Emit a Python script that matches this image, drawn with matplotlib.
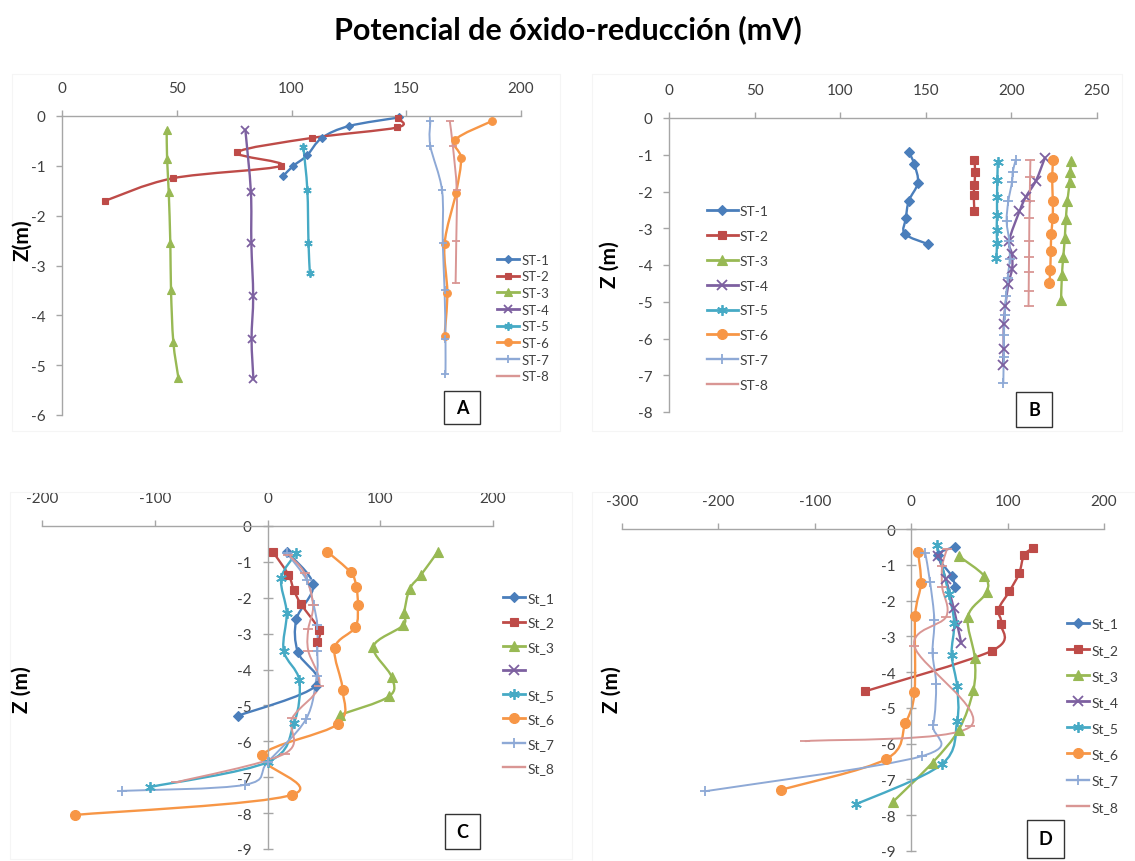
import numpy as np
import matplotlib
matplotlib.use("Agg")
import matplotlib.pyplot as plt
from matplotlib.path import Path
from matplotlib.patches import PathPatch, Rectangle
from matplotlib.lines import Line2D

plt.rcParams['font.family'] = ['Lato', 'DejaVu Sans']

# ---------------- DATA ----------------
# Panel A  (x = Eh mV, z = depth m)
A_labels = ["ST-1", "ST-2", "ST-3", "ST-4", "ST-5", "ST-6", "ST-7", "ST-8"]
A_st1_x = [146.7, 125.2, 113.2, 106.8, 100.8, 96.5]
A_st1_z = [-0.03, -0.2, -0.44, -0.79, -1.0, -1.2]
A_st2_x = [146.4, 146.1, 108.9, 76.3, 95.4, 48.2, 18.9]
A_st2_z = [-0.05, -0.23, -0.44, -0.73, -1.0, -1.25, -1.7]
A_st3_x = [45.6, 45.8, 46.5, 47.2, 47.5, 48.5, 50.7]
A_st3_z = [-0.28, -0.87, -1.52, -2.55, -3.5, -4.53, -5.25]
A_st4_x = [79.9, 82.3, 82.5, 83.3, 82.6, 83.4]
A_st4_z = [-0.28, -1.52, -2.55, -3.62, -4.48, -5.28]
A_st5_x = [105.2, 106.9, 107.4, 108.0]
A_st5_z = [-0.63, -1.48, -2.54, -3.15]
A_st6_x = [187.4, 171.3, 173.9, 171.7, 166.7, 167.9, 166.7]
A_st6_z = [-0.1, -0.48, -0.85, -1.54, -2.56, -3.55, -4.41]
A_st7_x = [160.5, 160.5, 165.6, 165.9, 166.7, 167.1, 167.1]
A_st7_z = [-0.11, -0.6, -1.49, -2.55, -3.5, -4.48, -5.17]
A_st8_x = [169.0, 170.3, 172.0, 171.8, 171.5]
A_st8_z = [-0.11, -0.6, -1.48, -2.5, -3.35]

# Panel B
B_labels = ["ST-1", "ST-2", "ST-3", "ST-4", "ST-5", "ST-6", "ST-7", "ST-8"]
B_st1_x = [140.1, 143.3, 145.4, 140.1, 138.4, 137.7, 151.2]
B_st1_z = [-0.92, -1.26, -1.76, -2.25, -2.72, -3.15, -3.43]
B_st2_x = [178.4, 178.8, 178.4, 178.0, 178.4]
B_st2_z = [-1.15, -1.46, -1.82, -2.09, -2.52]
B_st3_x = [235.0, 234.2, 234.0, 232.7, 231.8, 231.2, 230.3, 229.5, 229.0]
B_st3_z = [-1.18, -1.48, -1.75, -2.26, -2.74, -3.26, -3.78, -4.28, -4.95]
B_st4_x = [219.6, 214.3, 208.5, 204.7, 198.7, 200.4, 200.4, 198.2, 196.5, 195.5, 195.5, 195.0]
B_st4_z = [-1.08, -1.71, -2.14, -2.54, -3.34, -3.71, -4.1, -4.53, -5.11, -5.61, -6.28, -6.73]
B_st5_x = [192.0, 191.8, 191.6, 191.6, 191.4, 191.6, 191.2]
B_st5_z = [-1.21, -1.69, -2.16, -2.63, -3.04, -3.4, -3.8]
B_st6_x = [224.5, 223.8, 224.2, 224.1, 223.3, 223.0, 222.7, 222.2]
B_st6_z = [-1.13, -1.6, -2.25, -2.73, -3.15, -3.63, -4.14, -4.5]
B_st7_x = [202.5, 200.8, 200.4, 198.2, 197.2, 198.7, 199.0, 197.8, 196.9, 196.0, 195.7, 195.5, 195.3]
B_st7_z = [-1.15, -1.46, -1.73, -2.27, -2.81, -3.34, -3.85, -4.35, -4.85, -5.35, -5.9, -6.5, -7.2]
B_st8_x = [211.1, 210.9, 210.7, 210.5, 210.4, 210.3, 210.2, 210.1, 210.0]
B_st8_z = [-1.15, -1.6, -2.25, -2.72, -3.35, -3.78, -4.2, -4.7, -5.12]

# Panel C
C_labels = ["St_1", "St_2", "St_3", " ", "St_5", "St_6", "St_7", "St_8"]
C_st1_x = [17.0, 40.4, 25.6, 26.9, 42.9, -26.3]
C_st1_z = [-0.72, -1.63, -2.6, -3.52, -4.45, -5.29]
C_st2_x = [4.8, 18.6, 23.4, 29.8, 45.8, 44.2]
C_st2_z = [-0.72, -1.36, -1.79, -2.18, -2.89, -3.22]
C_st3_x = [151.0, 136.2, 126.0, 121.2, 120.2, 93.9, 110.0, 107.7, 64.4]
C_st3_z = [-0.72, -1.36, -1.76, -2.42, -2.77, -3.36, -4.2, -4.75, -5.26]
C_st4_x = []
C_st4_z = []
C_st5_x = [25.6, 12.2, 17.0, 14.4, 28.2, 23.4, 0.0, -103.8]
C_st5_z = [-0.75, -1.46, -2.42, -3.48, -4.3, -5.5, -6.58, -7.27]
C_st6_x = [53.2, 73.7, 78.8, 80.1, 77.9, 59.6, 66.7, 62.2, -4.5, 21.8, -170.5]
C_st6_z = [-0.72, -1.29, -1.69, -2.21, -2.82, -3.4, -4.58, -5.52, -6.39, -7.49, -8.05]
C_st7_x = [17.0, 34.6, 41.0, 44.2, 44.2, 43.6, 34.0, 0.0, -19.9, -128.8]
C_st7_z = [-0.75, -1.5, -2.21, -2.77, -3.48, -4.18, -5.39, -6.58, -7.21, -7.38]
C_st8_x = [18.6, 33.0, 40.4, 36.2, 36.2, 45.8, 21.8, 15.4, -80.8]
C_st8_z = [-0.8, -1.32, -2.21, -2.87, -3.48, -4.46, -5.36, -6.34, -7.14]

# Panel D
D_labels = ["St_1", "St_2", "St_3", "St_4", "St_5", "St_6", "St_7", "St_8"]
D_st1_x = [45.7, 27.7, 41.9, 45.7]
D_st1_z = [-0.49, -0.74, -1.31, -1.63]
D_st2_x = [126.2, 116.9, 112.0, 101.9, 90.6, 93.3, 83.9, -48.3]
D_st2_z = [-0.53, -0.74, -1.24, -1.74, -2.25, -2.66, -3.4, -4.54]
D_st3_x = [49.4, 75.7, 78.3, 58.8, 65.9, 64.4, 49.4, 22.1, -19.1]
D_st3_z = [-0.76, -1.31, -1.77, -2.45, -3.6, -4.51, -5.61, -6.53, -7.63]
D_st4_x = [28.0, 36.0, 44.0, 48.0, 52.0]
D_st4_z = [-0.76, -1.4, -2.2, -2.7, -3.2]
D_st5_x = [26.6, 39.0, 44.6, 41.9, 47.6, 47.6, 31.5, -57.7]
D_st5_z = [-0.44, -1.81, -2.64, -3.51, -4.4, -5.38, -6.58, -7.7]
D_st6_x = [7.1, 10.1, 4.1, 3.4, -6.0, -26.6, -135.2]
D_st6_z = [-0.65, -1.52, -2.43, -4.56, -5.43, -6.44, -7.29]
D_st7_x = [14.6, 19.5, 24.0, 22.1, 25.8, 22.8, 10.9, -213.9]
D_st7_z = [-0.67, -1.47, -2.55, -3.46, -4.33, -5.48, -6.35, -7.33]
D_st8_x = [37.1, 32.2, 32.2, 36.3, 3.4, 61.4, -109.7]
D_st8_z = [-0.56, -1.03, -1.63, -2.45, -3.28, -5.52, -5.93]

# ---------------- STYLE ----------------
W, H = 1135, 862
colors = ['#4A7EBB', '#BE4B48', '#98B954', '#7D60A0', '#46AAC5', '#F79646', '#8EA9D6', '#D99694']
markers = ['D', 's', '^', 'x', (6, 2, 0), 'o', '+', '_']
msizes = [4.8, 5.8, 6.3, 6.0, 7.0, 6.5, 7.0, 6.0]
lws = [1.7, 1.7, 1.7, 1.7, 1.7, 1.7, 1.4, 1.4]
axis_col = '#a6a6a6'
text_col = '#404040'

fig = plt.figure(figsize=(W / 100, H / 100), dpi=100)


def add_axes_px(x0, x1, y0, y1):
    return fig.add_axes([x0 / W, 1 - y1 / H, (x1 - x0) / W, (y1 - y0) / H])


def smooth_patch(ax, x, y, color, lw):
    P = np.column_stack([x, y]).astype(float)
    n = len(P)
    if n < 2:
        return
    verts = [P[0]]
    codes = [Path.MOVETO]
    for i in range(n - 1):
        p0 = P[i - 1] if i > 0 else P[i]
        p1 = P[i]
        p2 = P[i + 1]
        p3 = P[i + 2] if i + 2 < n else P[i + 1]
        c1 = p1 + (p2 - p0) / 6.0
        c2 = p2 - (p3 - p1) / 6.0
        verts += [c1, c2, p2]
        codes += [Path.CURVE4] * 3
    ax.add_patch(PathPatch(Path(verts, codes), fill=False, edgecolor=color,
                           lw=lw, capstyle='round', joinstyle='round', zorder=2))


def draw_panel(ax, series, labels, xlim, ylim, xticks, yticks, cross, mscale,
               leg_x, leg_y, leg_fs, leg_sp, leg_hl):
    ax.set_xlim(*xlim)
    ax.set_ylim(*ylim)
    ax.patch.set_alpha(0)
    for s in ['right', 'bottom']:
        ax.spines[s].set_visible(False)
    for s in ['top', 'left']:
        ax.spines[s].set_color(axis_col)
        ax.spines[s].set_linewidth(1.0)
    if cross:
        ax.spines['left'].set_position(('data', 0))
    ax.xaxis.tick_top()
    ax.set_xticks(xticks)
    ax.set_yticks(yticks)
    ax.set_xticklabels([str(v) for v in xticks])
    ax.set_yticklabels([str(v) for v in yticks])
    ax.tick_params(axis='x', direction='out', length=4, width=1, color=axis_col,
                   labelcolor=text_col, labelsize=11, pad=11)
    ax.tick_params(axis='y', direction='inout' if cross else 'out',
                   length=7 if cross else 4, width=1, color=axis_col,
                   labelcolor=text_col, labelsize=11, pad=8)
    handles = []
    for i, (xs, zs) in enumerate(series):
        c = colors[i]
        smooth_patch(ax, xs, zs, c, lws[i])
        mk = markers[i]
        ms = msizes[i] * mscale
        mew = 1.3 if mk in ('x', '+', '_') or isinstance(mk, tuple) else 0.8
        if len(xs):
            ax.plot(xs, zs, ls='none', marker=mk, ms=ms, color=c, mec=c, mew=mew,
                    zorder=3, clip_on=False)
        handles.append(Line2D([], [], color=c, lw=lws[i] + 0.3, marker=mk, ms=ms,
                              mec=c, mew=mew))
    leg = ax.legend(handles, labels, loc='center left',
                    bbox_to_anchor=(leg_x / W, 1 - leg_y / H),
                    bbox_transform=fig.transFigure, frameon=False,
                    fontsize=leg_fs, labelspacing=leg_sp, handlelength=leg_hl,
                    handletextpad=0.15, borderpad=0, borderaxespad=0)
    for t in leg.get_texts():
        t.set_color(text_col)


def letter_box(x0, x1, y0, y1, letter):
    fig.add_artist(Rectangle((x0 / W, 1 - y1 / H), (x1 - x0) / W, (y1 - y0) / H,
                             transform=fig.transFigure, fill=False,
                             edgecolor='#333333', lw=1.0))
    fig.text((x0 + x1) / 2 / W, 1 - (y0 + y1) / 2 / H, letter, ha='center',
             va='center', fontsize=13, fontweight='bold', color='black')


def ylabel(x, y, s):
    fig.text(x / W, 1 - y / H, s, rotation=90, ha='center', va='center',
             fontsize=15, fontweight='bold', color='black')


# very faint chart-area borders
for (x0, x1, y0, y1) in [(12, 560, 75, 432), (592, 1122, 75, 432),
                         (10, 572, 493, 860), (592, 1135, 493, 862)]:
    fig.add_artist(Rectangle((x0 / W, 1 - y1 / H), (x1 - x0) / W, (y1 - y0) / H,
                             transform=fig.transFigure, fill=False,
                             edgecolor='#f5f5f5', lw=0.8))

fig.text(0.5, 1 - 30 / H, "Potencial de óxido-reducción (mV)", ha='center',
         va='center', fontsize=22, fontweight='bold', color='black')

# Panel A
axA = add_axes_px(62, 521, 117, 416)
draw_panel(axA,
           [(A_st1_x, A_st1_z), (A_st2_x, A_st2_z), (A_st3_x, A_st3_z), (A_st4_x, A_st4_z),
            (A_st5_x, A_st5_z), (A_st6_x, A_st6_z), (A_st7_x, A_st7_z), (A_st8_x, A_st8_z)],
           A_labels, (0, 200), (-6, 0), [0, 50, 100, 150, 200], [0, -1, -2, -3, -4, -5, -6],
           False, 0.85, 497, 319, 9.5, 0.35, 1.7)
ylabel(22, 240, "Z(m)")
letter_box(444, 480, 392, 425, "A")

# Panel B
axB = add_axes_px(669, 1097, 119, 413)
draw_panel(axB,
           [(B_st1_x, B_st1_z), (B_st2_x, B_st2_z), (B_st3_x, B_st3_z), (B_st4_x, B_st4_z),
            (B_st5_x, B_st5_z), (B_st6_x, B_st6_z), (B_st7_x, B_st7_z), (B_st8_x, B_st8_z)],
           B_labels, (0, 250), (-8, 0), [0, 50, 100, 150, 200, 250],
           [0, -1, -2, -3, -4, -5, -6, -7, -8],
           False, 1.1, 707, 299, 10, 0.92, 2.2)
ylabel(610, 265, "Z (m)")
letter_box(1016, 1052, 393, 428, "B")

# Panel C
axC = add_axes_px(42, 493, 527, 850)
draw_panel(axC,
           [(C_st1_x, C_st1_z), (C_st2_x, C_st2_z), (C_st3_x, C_st3_z), (C_st4_x, C_st4_z),
            (C_st5_x, C_st5_z), (C_st6_x, C_st6_z), (C_st7_x, C_st7_z), (C_st8_x, C_st8_z)],
           C_labels, (-200, 200), (-9, 0), [-200, -100, 0, 100, 200],
           [0, -1, -2, -3, -4, -5, -6, -7, -8, -9],
           True, 1.1, 503, 684, 10, 0.88, 1.6)
ylabel(22, 690, "Z (m)")
letter_box(445, 480, 815, 850, "C")

# Panel D
axD = add_axes_px(622, 1104, 530, 852)
draw_panel(axD,
           [(D_st1_x, D_st1_z), (D_st2_x, D_st2_z), (D_st3_x, D_st3_z), (D_st4_x, D_st4_z),
            (D_st5_x, D_st5_z), (D_st6_x, D_st6_z), (D_st7_x, D_st7_z), (D_st8_x, D_st8_z)],
           D_labels, (-300, 200), (-9, 0), [-300, -200, -100, 0, 100, 200],
           [0, -1, -2, -3, -4, -5, -6, -7, -8, -9],
           True, 1.1, 1067, 716, 10, 1.02, 1.6)
ylabel(612, 690, "Z (m)")
letter_box(1027, 1064, 821, 859, "D")

fig.savefig("out.png", dpi=100)
